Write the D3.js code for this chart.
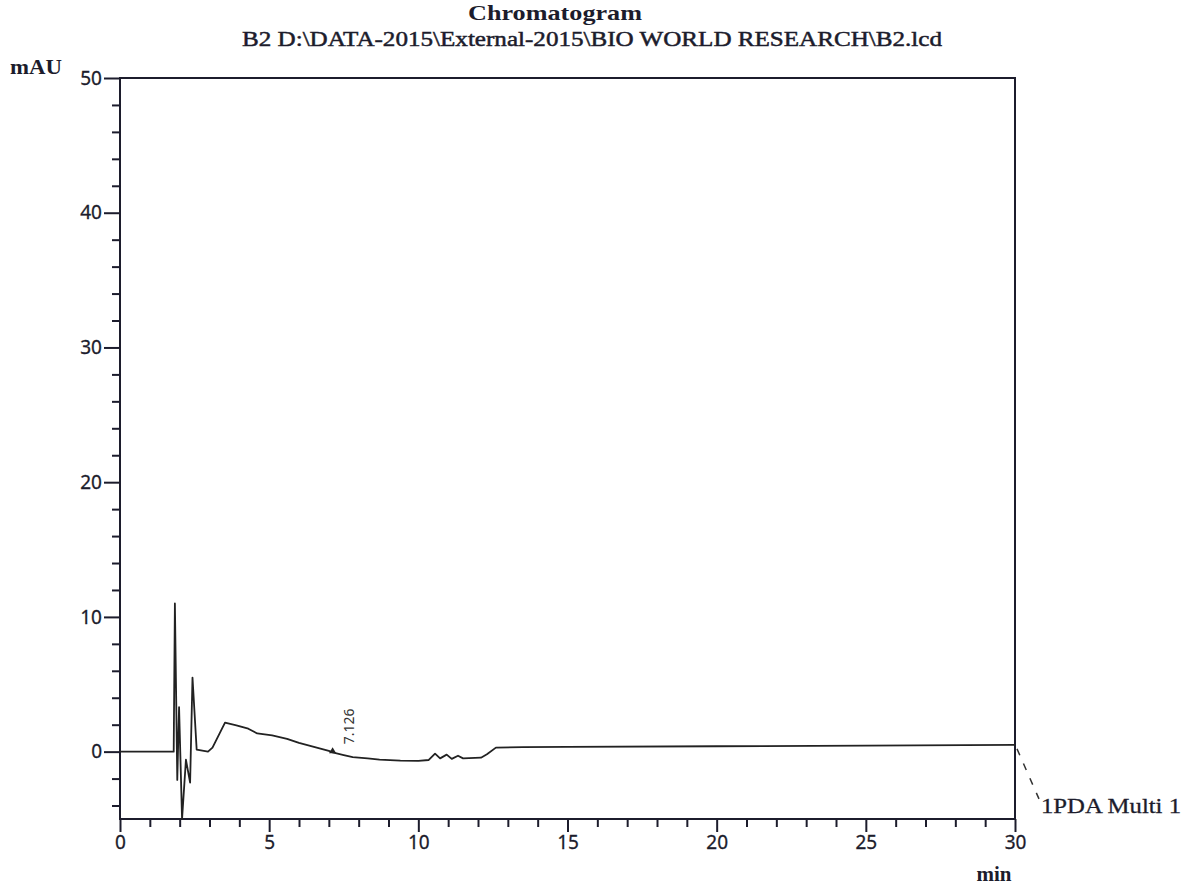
<!DOCTYPE html>
<html>
<head>
<meta charset="utf-8">
<script src="https://cdn.jsdelivr.net/npm/d3@7"></script>
<style>
  body { margin: 0; background: #fff; }
  svg { display: block; }
  .tick text { font-family: "Noto Sans", sans-serif; font-size: 19px; fill: #1c1c2c; }
  .domain { display: none; }
</style>
</head>
<body>
<svg id="chart"></svg>
<script>
// chromatogram trace: retention time (min) and signal (mAU)
const times  = [0, 1.80, 1.84, 1.92, 1.98, 2.08, 2.21, 2.35, 2.43, 2.57, 2.95, 3.10, 3.52, 3.90, 4.30, 4.60, 5.10, 5.60, 6.00, 6.50, 7.00, 7.126, 7.50, 7.80, 8.30, 8.70, 9.40, 10.00, 10.35, 10.56, 10.73, 10.95, 11.12, 11.33, 11.50, 12.10, 12.30, 12.60, 13.50, 15, 20, 25, 30];
const values = [0, 0, 11.0, -2.1, 3.3, -5.0, -0.6, -2.3, 5.5, 0.15, 0.0, 0.3, 2.15, 1.95, 1.7, 1.35, 1.2, 0.95, 0.65, 0.35, 0.05, -0.05, -0.25, -0.4, -0.5, -0.6, -0.67, -0.68, -0.62, -0.15, -0.5, -0.22, -0.54, -0.3, -0.5, -0.45, -0.2, 0.3, 0.33, 0.36, 0.4, 0.45, 0.5];

const peakTimes  = [7.126];
const peakValues = [-0.05];
const peakLabels = ["7.126"];

const yMajor = [0, 10, 20, 30, 40, 50];
const xMajor = [0, 5, 10, 15, 20, 25, 30];

const titleLines = ["Chromatogram", "B2 D:\\DATA-2015\\External-2015\\BIO WORLD RESEARCH\\B2.lcd"];
const channelName = "1PDA Multi 1";

function drawChart(width, height) {
    let svg = d3.select("#chart")
                .attr("width", width)
                .attr("height", height);
    let padding = { top: 78, right: 177, bottom: 71, left: 120 };
    let ink = "#1c1c2c";

    let xScale = d3.scaleLinear()
                    .domain([0, 30])
                    .range([padding.left, width - padding.right]);
    let yScale = d3.scaleLinear()
                    .domain([-5, 50])
                    .range([height - padding.bottom, padding.top]);

    // minor ticks first, then the labelled ones
    let yMinor = d3.axisLeft(yScale)
                    .tickValues(d3.range(-4, 50, 2).filter(v => v % 10 !== 0))
                    .tickSize(8).tickFormat("");
    let yAxis = d3.axisLeft(yScale)
                    .tickValues(yMajor)
                    .tickSize(16).tickPadding(2).tickFormat(d3.format("d"));
    let xMinor = d3.axisBottom(xScale)
                    .tickValues(d3.range(1, 30, 1).filter(v => v % 5 !== 0))
                    .tickSize(8).tickFormat("");
    let xAxis = d3.axisBottom(xScale)
                    .tickValues(xMajor)
                    .tickSize(13).tickPadding(4).tickFormat(d3.format("d"));

    let xb = height - padding.bottom;
    svg.append("g").attr("transform", "translate(" + padding.left + ",0)").call(yMinor);
    svg.append("g").attr("transform", "translate(" + padding.left + ",0)").call(yAxis);
    svg.append("g").attr("transform", "translate(0," + xb + ")").call(xMinor);
    svg.append("g").attr("transform", "translate(0," + xb + ")").call(xAxis);
    svg.selectAll(".tick line").attr("stroke", ink).attr("stroke-width", 2);
    svg.selectAll(".tick text").attr("stroke", ink).attr("stroke-width", 0.3);

    // frame
    svg.append("rect")
        .attr("x", padding.left)
        .attr("y", padding.top)
        .attr("width", xScale(30) - padding.left)
        .attr("height", xb - padding.top)
        .attr("fill", "none")
        .attr("stroke", ink)
        .attr("stroke-width", 2);

    let data = times.map((t, i) => ({ t: t, v: values[i] }));
    let line = d3.line()
                .x(d => xScale(d.t))
                .y(d => yScale(d.v));
    svg.append("path")
        .datum(data)
        .attr("d", line)
        .attr("fill", "none")
        .attr("stroke", "#222")
        .attr("stroke-width", 1.8)
        .attr("stroke-linejoin", "round");

    // peak marker and rotated retention label
    peakTimes.forEach((t, i) => {
        let px = xScale(t), py = yScale(peakValues[i]);
        svg.append("path")
            .attr("d", d3.symbol().type(d3.symbolTriangle).size(22))
            .attr("transform", "translate(" + px + "," + (py - 1) + ")")
            .attr("fill", "#222");
        svg.append("text")
            .attr("transform", "translate(" + (px + 21) + "," + (py - 8) + ") rotate(-90)")
            .attr("font-family", "'Noto Sans', sans-serif")
            .attr("font-size", "14px")
            .attr("fill", "#333")
            .text(peakLabels[i]);
    });

    // channel leader line + name
    let endV = values[values.length - 1];
    svg.append("line")
        .attr("x1", xScale(30) + 2).attr("y1", yScale(endV) + 4)
        .attr("x2", xScale(30) + 24).attr("y2", yScale(endV) + 54)
        .attr("stroke", "#333")
        .attr("stroke-width", 1.5)
        .attr("stroke-dasharray", "7,9");
    svg.append("text")
        .attr("x", xScale(30) + 26)
        .attr("y", yScale(endV) + 68)
        .attr("font-family", "'Liberation Serif', serif")
        .attr("font-size", "22px")
        .attr("fill", ink)
        .attr("stroke", ink)
        .attr("stroke-width", 0.3)
        .attr("textLength", 140)
        .attr("lengthAdjust", "spacingAndGlyphs")
        .text(channelName);

    // titles and axis units
    svg.append("text")
        .attr("x", 555).attr("y", 20)
        .attr("text-anchor", "middle")
        .attr("font-family", "'Liberation Serif', serif")
        .attr("font-size", "21px")
        .attr("font-weight", "bold")
        .attr("fill", ink)
        .attr("textLength", 174)
        .attr("lengthAdjust", "spacingAndGlyphs")
        .text(titleLines[0]);
    svg.append("text")
        .attr("x", 592).attr("y", 46)
        .attr("text-anchor", "middle")
        .attr("font-family", "'Liberation Serif', serif")
        .attr("font-size", "22px")
        .attr("fill", ink)
        .attr("stroke", ink)
        .attr("stroke-width", 0.5)
        .attr("textLength", 700)
        .attr("lengthAdjust", "spacingAndGlyphs")
        .text(titleLines[1]);
    svg.append("text")
        .attr("x", 10).attr("y", 74)
        .attr("font-family", "'Liberation Serif', serif")
        .attr("font-size", "22px")
        .attr("font-weight", "bold")
        .attr("fill", ink)
        .attr("textLength", 52)
        .attr("lengthAdjust", "spacingAndGlyphs")
        .text("mAU");
    svg.append("text")
        .attr("x", 994).attr("y", 881)
        .attr("text-anchor", "middle")
        .attr("font-family", "'Liberation Serif', serif")
        .attr("font-size", "21px")
        .attr("font-weight", "bold")
        .attr("fill", ink)
        .text("min");
}

drawChart(1192, 890);
</script>
</body>
</html>
